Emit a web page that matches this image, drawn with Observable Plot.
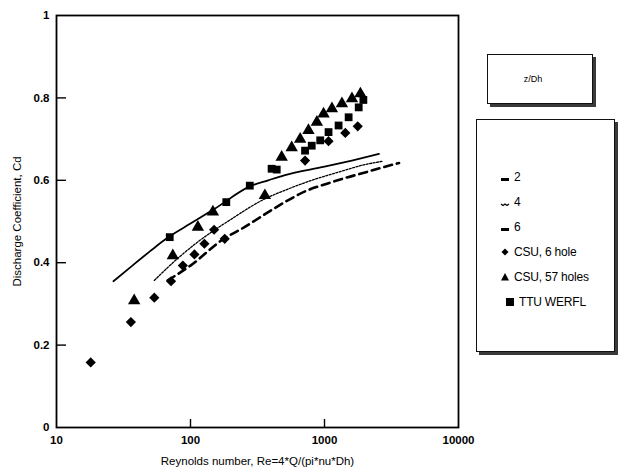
<!DOCTYPE html>
<html><head><meta charset="utf-8">
<script src="https://cdn.jsdelivr.net/npm/d3@7"></script>
<script src="https://cdn.jsdelivr.net/npm/@observablehq/plot@0.6"></script>
<style>
body{margin:0;background:#fff;font-family:"Liberation Sans",Arial,sans-serif;color:#000;}
#wrap{position:relative;width:622px;height:469px;overflow:hidden;}
#wrap svg [aria-label="x-axis tick label"] text,#wrap svg [aria-label="y-axis tick label"] text{font-weight:bold;}
.box{position:absolute;border:1.3px solid #111;background:#fff;box-shadow:3px 3px 0 #3a3a3a;}
.title{font-size:9px;text-align:center;}
.row{position:absolute;left:22px;height:14px;display:flex;align-items:center;font-size:12px;letter-spacing:-0.2px;}
.row svg{width:14px;height:14px;margin-right:2px;}
</style></head><body><div id="wrap"></div>
<script>
// ticks
const xTicks = [10, 100, 1000, 10000];
const yTicks = [0, 0.2, 0.4, 0.6, 0.8, 1];
const xInnerTicks = [100, 1000];
const yInnerTicks = [0.2, 0.4, 0.6, 0.8];
const xLabel = "Reynolds number, Re=4*Q/(pi*nu*Dh)";
const yLabel = "Discharge Coefficient, Cd";
const legendTitle = "z/Dh";
const legendLabels = ["2", "4", "6", "CSU, 6 hole", "CSU, 57 holes", "TTU WERFL"];

// curves z/Dh = 2, 4, 6
const line2Re = [26.6, 35.9, 50, 67.7, 100, 150, 285, 380, 500, 1000, 1600, 2550];
const line2Cd = [0.355, 0.39, 0.428, 0.461, 0.495, 0.53, 0.587, 0.60, 0.612, 0.633, 0.648, 0.664];
const line4Re = [53.7, 80, 113, 200, 359, 500, 803, 1277, 2000, 2700];
const line4Cd = [0.357, 0.41, 0.45, 0.505, 0.555, 0.575, 0.60, 0.62, 0.638, 0.646];
const line6Re = [67.6, 100, 179, 240, 349, 505, 738, 1072, 1472, 1910, 2620, 3600];
const line6Cd = [0.357, 0.393, 0.459, 0.482, 0.515, 0.547, 0.575, 0.593, 0.607, 0.617, 0.63, 0.642];

// measured points
const csu6Re = [18, 35.9, 53.7, 71.6, 87.7, 107, 127, 150, 180, 716, 1072, 1430, 1770];
const csu6Cd = [0.158, 0.256, 0.315, 0.355, 0.393, 0.42, 0.446, 0.48, 0.458, 0.648, 0.695, 0.715, 0.731];
const csu57Re = [38, 73.8, 113.5, 147, 359, 479, 569, 658, 759, 877, 984, 1136, 1349, 1603, 1853];
const csu57Cd = [0.308, 0.417, 0.486, 0.523, 0.563, 0.656, 0.679, 0.70, 0.721, 0.741, 0.761, 0.774, 0.786, 0.798, 0.81];
const ttuRe = [70, 185, 277, 403, 440, 716, 803, 929, 1072, 1274, 1514, 1800, 1950];
const ttuCd = [0.462, 0.547, 0.587, 0.628, 0.626, 0.672, 0.684, 0.697, 0.717, 0.733, 0.753, 0.777, 0.795];

const zip = (xs, ys) => xs.map((x, i) => ({x, y: ys[i]}));

const chart = Plot.plot({
  width: 622, height: 469,
  marginLeft: 56, marginRight: 164, marginTop: 15, marginBottom: 42,
  style: {fontFamily: "Liberation Sans, Arial, sans-serif", fontSize: "11px", color: "#000", background: "transparent"},
  x: {type: "log", domain: [10, 10000]},
  y: {domain: [0, 1]},
  marks: [
    Plot.axisX(xTicks, {tickSize: 0, tickPadding: 8, tickFormat: d => String(d), label: xLabel, labelAnchor: "center", labelOffset: 37, labelArrow: "none", fontSize: 11.5}),
    Plot.axisY(yTicks, {tickSize: 0, tickPadding: 7, tickFormat: d => String(d), label: yLabel, labelAnchor: "center", labelOffset: 44, labelArrow: "none", fontSize: 11.5}),
    Plot.tickX(xInnerTicks, {x: d => d, insetTop: 404, strokeWidth: 1.4, stroke: "#000"}),
    Plot.tickY(yInnerTicks, {y: d => d, insetRight: 392, strokeWidth: 1.4, stroke: "#000"}),
    Plot.frame({stroke: "#000", strokeWidth: 1.8}),
    Plot.line(zip(line2Re, line2Cd), {x: "x", y: "y", curve: "monotone-x", stroke: "#000", strokeWidth: 1.8}),
    Plot.line(zip(line4Re, line4Cd), {x: "x", y: "y", curve: "monotone-x", stroke: "#000", strokeWidth: 1.3, strokeDasharray: "2,1.5"}),
    Plot.line(zip(line6Re, line6Cd), {x: "x", y: "y", curve: "monotone-x", stroke: "#000", strokeWidth: 2.6, strokeDasharray: "8,5"}),
    Plot.dot(zip(csu6Re, csu6Cd), {x: "x", y: "y", symbol: "diamond2", r: 4.6, fill: "#000"}),
    Plot.dot(zip(csu57Re, csu57Cd), {x: "x", y: "y", symbol: "triangle", r: 4.6, fill: "#000"}),
    Plot.dot(zip(ttuRe, ttuCd), {x: "x", y: "y", symbol: "square", r: 4.4, fill: "#000"})
  ]
});
const wrap = document.getElementById("wrap");
wrap.appendChild(chart);

// legend boxes
const b1 = document.createElement("div");
b1.className = "box";
Object.assign(b1.style, {left: "487px", top: "54px", width: "104px", height: "48px"});
b1.innerHTML = `<div class="title" style="margin-top:19px;margin-right:14px">${legendTitle}</div>`;
wrap.appendChild(b1);

const b2 = document.createElement("div");
b2.className = "box";
Object.assign(b2.style, {left: "476px", top: "119px", width: "137px", height: "231px"});
const syms = [
  `<svg viewBox="0 0 14 14"><rect x="3" y="8" width="8" height="3" fill="#000"/></svg>`,
  `<svg viewBox="0 0 14 14"><path d="M3 9 L5 10.5 L7 9 L9 10.5 L11 9" stroke="#000" stroke-width="1.3" fill="none"/></svg>`,
  `<svg viewBox="0 0 14 14"><rect x="3" y="8" width="8" height="3" fill="#000"/></svg>`,
  `<svg viewBox="0 0 14 14"><path d="M7 3.5 L10.5 7 L7 10.5 L3.5 7Z" fill="#000"/></svg>`,
  `<svg viewBox="0 0 14 14"><path d="M7 3 L11 10.5 L3 10.5Z" fill="#000"/></svg>`,
  `<svg viewBox="0 0 14 14"><rect x="3" y="3" width="8" height="8" fill="#000"/></svg>`
];
const rowTops = [50, 75, 100, 125, 150, 175];
legendLabels.forEach((lab, i) => {
  const r = document.createElement("div");
  r.className = "row";
  r.style.top = rowTops[i] + "px";
  r.style.left = (i === 5 ? 26 : 21) + "px";
  r.innerHTML = syms[i] + `<span>${lab}</span>`;
  b2.appendChild(r);
});
wrap.appendChild(b2);
</script>
</body></html>
